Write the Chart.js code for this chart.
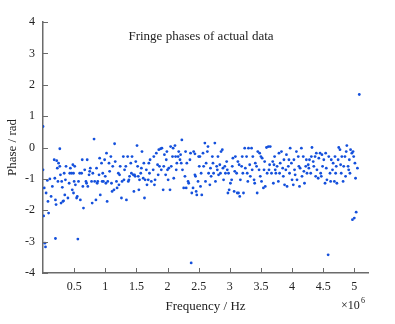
<!DOCTYPE html>
<html>
<head>
<meta charset="utf-8">
<script src="https://cdn.jsdelivr.net/npm/chart.js@4/dist/chart.umd.min.js"></script>
<style>
  html, body { margin: 0; padding: 0; background: #fff; }
  #wrap { width: 395px; height: 324px; }
</style>
</head>
<body>
<div id="wrap"><canvas id="phaseChart" width="395" height="324"></canvas></div>
<script>
// --- Data (frequency in units of 10^6 Hz, phase in rad) ---
const freq = [
  0.00,0.00,0.02,0.01,0.03,0.04,0.07,0.05,0.08,0.09,0.11,0.13,0.15,0.18,0.19,0.20,0.21,0.22,0.23,0.25,0.20,0.24,
  0.27,0.27,0.28,0.30,0.31,0.32,0.34,0.35,0.36,0.37,0.40,0.42,0.43,0.44,0.46,0.47,0.48,0.49,0.49,0.50,0.29,0.33,
  0.51,0.52,0.54,0.55,0.56,0.57,0.59,0.60,0.62,0.63,0.64,0.65,0.67,0.69,0.70,0.71,0.72,0.74,0.75,
  0.76,0.78,0.79,0.80,0.82,0.83,0.85,0.86,0.87,0.88,0.90,0.91,0.92,0.94,0.95,0.96,0.97,0.99,1.00,
  1.01,1.02,1.03,1.04,1.06,1.07,1.09,1.10,1.11,1.12,1.14,1.15,1.16,1.18,1.19,1.21,1.22,1.23,1.24,
  1.26,1.27,1.29,1.30,1.31,1.33,1.34,1.36,1.37,1.38,1.39,1.41,1.42,1.43,1.45,1.46,1.47,1.48,1.49,
  1.51,1.52,1.53,1.54,1.55,1.57,1.58,1.59,1.61,1.62,1.63,1.64,1.66,1.67,1.69,1.70,1.71,1.72,1.74,
  1.77,1.78,1.79,1.80,1.82,1.84,1.85,1.86,1.87,1.89,1.90,1.91,1.93,1.94,1.95,1.97,1.98,1.99,2.00,
  2.01,2.02,2.04,2.05,2.06,2.08,2.09,2.10,2.12,2.13,2.14,2.15,2.17,2.18,2.20,2.21,2.22,2.23,2.24,
  2.26,2.28,2.29,2.30,2.31,2.33,2.34,2.36,2.37,2.39,2.38,2.41,2.42,2.44,2.44,2.45,2.46,2.47,2.49,2.50,
  2.51,2.52,2.53,2.54,2.55,2.57,2.58,2.60,2.61,2.62,2.64,2.65,2.66,2.68,2.69,2.70,2.72,2.73,2.74,
  2.76,2.77,2.79,2.80,2.81,2.82,2.84,2.85,2.86,2.88,2.89,2.90,2.92,2.93,2.95,2.96,2.97,2.98,2.99,
  3.01,3.03,3.04,3.05,3.07,3.08,3.09,3.11,3.12,3.13,3.14,3.15,3.16,3.17,3.19,3.20,3.21,3.22,3.24,3.25,
  3.27,3.28,3.29,3.30,3.32,3.33,3.35,3.36,3.37,3.39,3.40,3.41,3.43,3.44,3.45,3.47,3.48,3.49,3.50,
  3.51,3.52,3.54,3.55,3.56,3.57,3.59,3.60,3.62,3.63,3.64,3.65,3.67,3.69,3.70,3.71,3.72,3.73,3.74,
  3.76,3.78,3.79,3.80,3.81,3.83,3.85,3.86,3.87,3.88,3.90,3.91,3.92,3.94,3.95,3.96,3.97,3.99,4.00,
  4.02,4.03,4.04,4.05,4.07,4.08,4.10,4.11,4.12,4.13,4.15,4.16,4.18,4.19,4.20,4.22,4.23,4.24,
  4.26,4.27,4.28,4.30,4.31,4.32,4.34,4.35,4.37,4.38,4.39,4.40,4.42,4.43,4.45,4.46,4.47,4.48,4.49,
  4.51,4.53,4.54,4.55,4.56,4.58,4.59,4.61,4.62,4.63,4.65,4.66,4.68,4.69,4.70,4.71,4.72,4.74,4.75,
  4.77,4.78,4.79,4.80,4.82,4.83,4.85,4.86,4.87,4.88,4.90,4.91,4.92,4.93,4.94,4.96,4.97,4.98,4.99,
  5.00,5.01,5.02,5.03,5.05,5.08
];
const phase = [
  0.67,-0.71,-1.29,-2.18,-3.05,-3.17,-1.05,-1.45,-1.72,-2.09,-1.00,-1.56,-1.24,-0.39,-0.98,-1.67,-1.82,-0.42,-0.66,-0.50,-2.90,-1.08,
  -0.04,-0.60,-0.87,-1.08,-1.27,-1.72,-0.82,-1.51,-1.03,-0.60,-1.61,-1.14,-0.82,-0.66,-0.82,-1.35,-0.55,-0.82,-1.45,-1.08,-1.77,-1.70,
  -0.60,-1.19,-1.61,-1.56,-2.92,-1.08,-0.82,-1.67,-0.82,-0.39,-1.24,-1.93,-0.71,-1.08,-1.14,-0.39,-1.24,-0.87,-0.76,
  -0.66,-1.08,-1.77,-0.82,0.27,-1.08,-1.67,-0.66,-1.14,-1.08,-0.87,-0.34,-1.51,-0.50,-1.08,-0.82,-1.08,-0.39,-0.92,
  -1.14,-0.18,-1.72,-1.08,-0.50,-0.76,-0.29,-1.14,-1.40,-0.60,-1.35,0.12,-0.45,-1.08,-1.29,-0.82,-1.19,-0.87,-0.60,
  -1.61,-1.08,-0.29,-1.03,-0.71,-0.60,-1.67,-0.29,-1.08,-1.03,-0.92,-0.50,-0.82,-0.29,-0.87,-1.40,-0.87,-0.92,-0.45,
  0.06,-0.60,-0.92,-1.35,-1.03,-0.82,-0.66,-0.13,-0.98,-0.50,-1.61,-1.03,-0.71,-1.19,-1.03,-0.50,-0.82,-0.39,-1.08,
  -0.71,-0.29,-1.19,-1.03,-0.18,-0.55,-0.87,-0.07,-0.60,-0.04,-0.71,-0.02,-1.35,-0.60,-0.23,-0.87,-0.39,-0.13,-0.71,
  -1.03,-0.66,-1.35,0.03,-0.60,-0.29,-0.02,-0.98,0.06,-0.29,-0.71,-0.50,-0.29,-0.13,-0.39,-0.23,-0.50,0.24,-0.71,
  -1.29,-0.92,-0.13,-1.29,-0.50,-1.08,-1.14,-0.39,-0.18,-1.45,-3.68,-1.29,-0.13,-0.87,-0.20,-0.92,-1.40,-1.51,-1.08,-0.29,
  -0.60,-0.29,-1.24,-0.82,-1.51,-0.18,-0.60,0.14,-1.08,-0.50,-0.13,0.03,-0.82,-1.19,-0.66,-0.92,-0.29,-0.50,-0.82,
  0.14,-1.08,-0.60,-0.71,-0.29,-0.87,-0.55,-0.82,-0.13,-0.07,-0.66,-1.03,-0.60,-0.82,-0.45,-0.71,-1.45,-0.82,-1.35,
  -1.14,-1.03,-0.60,-0.34,-1.40,-0.76,-0.29,-0.82,-1.45,-0.45,-1.45,-0.55,-1.56,-1.03,-0.60,-0.29,-0.82,-1.45,-0.02,-0.66,
  -0.29,-0.82,-1.08,-0.02,-0.55,-0.92,-0.02,-0.71,-0.29,-1.03,-1.14,-0.50,-0.60,-1.45,-0.13,-0.71,-0.18,-0.92,-0.29,
  -1.08,-0.34,-1.29,-0.71,-0.45,-1.24,0.00,-0.82,0.03,-0.71,-0.55,0.03,-0.82,-0.45,-1.14,-0.55,-0.29,-0.71,-0.82,
  -0.60,-1.08,-0.18,-0.82,-0.50,-0.13,-0.66,-0.92,-0.39,-1.19,-0.71,-0.23,-1.24,-0.60,-0.39,-0.82,-0.02,-0.50,-1.03,
  -1.19,-0.39,-0.71,-0.87,-0.13,-1.03,-0.29,-0.60,-1.24,-0.66,-0.02,-0.92,-0.29,-0.76,-1.14,-0.60,-0.39,-0.82,
  -0.55,-0.66,-0.39,-0.82,-0.29,0.00,-0.45,-0.60,-0.29,-0.92,-0.18,-0.71,-0.98,-0.34,-0.18,-0.82,-0.92,-0.23,-0.60,
  -0.39,-1.14,-0.18,-0.66,-1.03,-3.42,-0.29,-0.82,-1.08,-0.39,-0.71,-0.50,-1.08,-0.29,-0.82,-0.60,-1.14,-0.39,0.00,
  -0.07,-0.55,-0.82,-0.29,-1.08,-0.60,-0.29,-0.92,-0.13,0.06,-0.60,-0.71,-0.39,-0.82,-0.07,-0.18,-2.30,-0.13,-0.29,
  -2.25,-0.50,-0.98,-2.06,-0.66,1.69
];
const xTicks = [0.5, 1, 1.5, 2, 2.5, 3, 3.5, 4, 4.5, 5];
const yTicks = [-4, -3, -2, -1, 0, 1, 2, 3, 4];

const points = freq.map((f, i) => ({ x: f, y: phase[i] }));

const AXIS_COLOR = '#6b6b6b';
const TEXT_COLOR = '#222';
const SERIF = "'Liberation Serif', 'Times New Roman', serif";

// inward tick marks + in-plot title + x10^6 multiplier
const decorations = {
    id: 'decorations',
    afterDatasetsDraw(chart) {
        const { ctx, chartArea: area, scales: { x, y } } = chart;
        ctx.save();
        ctx.strokeStyle = AXIS_COLOR;
        ctx.lineWidth = 1;
        ctx.beginPath();
        xTicks.forEach(v => {
            const px = Math.round(x.getPixelForValue(v)) + 0.5;
            ctx.moveTo(px, area.bottom);
            ctx.lineTo(px, area.bottom - 5);
        });
        yTicks.forEach(v => {
            const py = Math.round(y.getPixelForValue(v)) + 0.5;
            ctx.moveTo(area.left, py);
            ctx.lineTo(area.left + 5, py);
        });
        ctx.stroke();

        ctx.fillStyle = TEXT_COLOR;
        ctx.textAlign = 'center';
        ctx.textBaseline = 'middle';
        ctx.font = '13px ' + SERIF;
        ctx.fillText('Fringe phases of actual data', 201, 37);

        ctx.textAlign = 'left';
        ctx.font = '12px ' + SERIF;
        ctx.fillText('\u00d710', 341, 306);
        ctx.font = '8px ' + SERIF;
        ctx.fillText('6', 361, 301);
        ctx.restore();
    }
};

const ctx = document.getElementById('phaseChart').getContext('2d');
new Chart(ctx, {
    type: 'scatter',
    data: {
        datasets: [{
            data: points,
            backgroundColor: '#1450dc',
            borderWidth: 0,
            pointRadius: 1.4,
            pointHoverRadius: 1.4
        }]
    },
    options: {
        responsive: false,
        animation: false,
        layout: { padding: { top: 22, right: 27, left: 0, bottom: 0 } },
        plugins: {
            legend: { display: false },
            tooltip: { enabled: false }
        },
        scales: {
            x: {
                type: 'linear',
                min: 0,
                max: 5.22,
                afterBuildTicks: s => { s.ticks = xTicks.map(v => ({ value: v })); },
                afterFit: s => { s.height = 51; },
                grid: { display: false, drawTicks: false },
                border: { display: true, color: AXIS_COLOR, width: 1.5 },
                ticks: {
                    color: TEXT_COLOR,
                    font: { family: SERIF, size: 12 },
                    padding: 7,
                    maxRotation: 0,
                    autoSkip: false,
                    callback: v => String(v)
                },
                title: {
                    display: true,
                    text: 'Frequency / Hz',
                    color: TEXT_COLOR,
                    font: { family: SERIF, size: 13 },
                    padding: { top: 0, bottom: 10 }
                }
            },
            y: {
                min: -4,
                max: 4,
                afterBuildTicks: s => { s.ticks = yTicks.map(v => ({ value: v })); },
                afterFit: s => { s.width = 43; },
                grid: { display: false, drawTicks: false },
                border: { display: true, color: AXIS_COLOR, width: 1.5 },
                ticks: {
                    color: TEXT_COLOR,
                    font: { family: SERIF, size: 12 },
                    padding: 8,
                    autoSkip: false,
                    callback: v => String(v)
                },
                title: {
                    display: true,
                    text: 'Phase / rad',
                    color: TEXT_COLOR,
                    font: { family: SERIF, size: 13 },
                    padding: { top: 5, bottom: 0 }
                }
            }
        }
    },
    plugins: [decorations]
});
</script>
</body>
</html>
